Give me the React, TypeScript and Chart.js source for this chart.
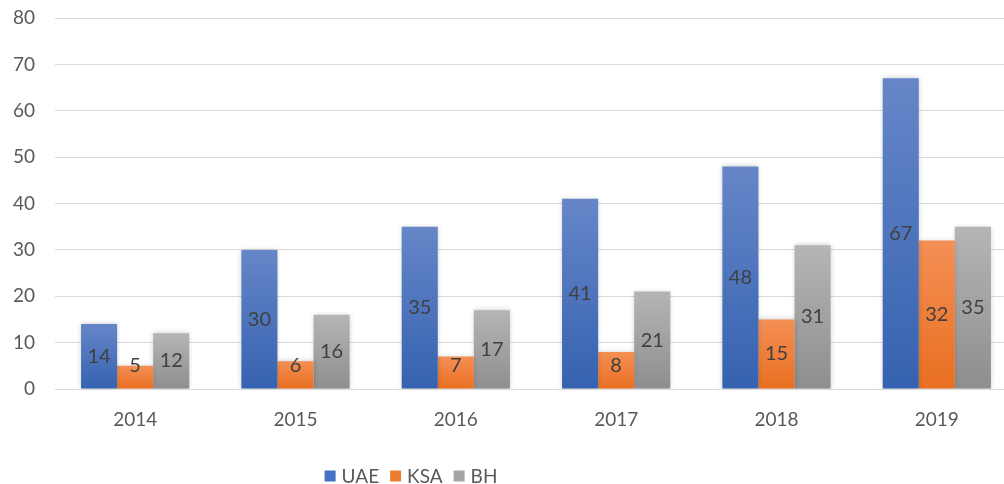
import React, { useEffect, useRef } from "react";
import { Chart, registerables } from "chart.js";

Chart.register(...registerables);

const categories = ["2014", "2015", "2016", "2017", "2018", "2019"];
const uaeValues = [14, 30, 35, 41, 48, 67];
const ksaValues = [5, 6, 7, 8, 15, 32];
const bhValues = [12, 16, 17, 21, 31, 35];
const seriesNames = ["UAE", "KSA", "BH"];
const yTicks = [0, 10, 20, 30, 40, 50, 60, 70, 80];

const FONT = "Lato";
const legendColors = ["#4472c4", "#ed7d31", "#a5a5a5"];
const gradTops = ["#6686c8", "#f48f55", "#b5b5b5"];
const gradBottoms = ["#3562b0", "#e96f20", "#8e8e8e"];

const makeGrad = (top: string, bottom: string) => (c: any) => {
  const chart = c.chart;
  const ys = chart.scales && chart.scales.y;
  if (!ys || c.raw == null) return bottom;
  const t = ys.getPixelForValue(c.raw);
  const b = ys.getPixelForValue(0);
  if (!isFinite(t) || !isFinite(b) || t === b) return bottom;
  const g = chart.ctx.createLinearGradient(0, t, 0, b);
  g.addColorStop(0, top);
  g.addColorStop(1, bottom);
  return g;
};

const shadowPlugin = {
  id: "barShadow",
  beforeDatasetsDraw(chart: any) {
    const ctx = chart.ctx;
    ctx.save();
    ctx.shadowColor = "rgba(0,0,0,0.22)";
    ctx.shadowBlur = 5;
    ctx.shadowOffsetX = 0;
    ctx.shadowOffsetY = 0;
  },
  afterDatasetsDraw(chart: any) {
    chart.ctx.restore();
  },
};

const labelPlugin = {
  id: "barLabels",
  afterDraw(chart: any) {
    const ctx = chart.ctx;
    ctx.save();
    ctx.font = `20px ${FONT}`;
    ctx.fillStyle = "#404040";
    ctx.textAlign = "center";
    ctx.textBaseline = "middle";
    chart.data.datasets.forEach((ds: any, di: number) => {
      const meta = chart.getDatasetMeta(di);
      meta.data.forEach((el: any, i: number) => {
        const y = Math.min((el.y + el.base) / 2, el.base - 23);
        ctx.fillText(String(ds.data[i]), el.x, y);
      });
    });
    ctx.restore();
  },
};

const legendPlugin = {
  id: "customLegend",
  afterDraw(chart: any) {
    const ctx = chart.ctx;
    ctx.save();
    ctx.font = `19px ${FONT}`;
    ctx.textBaseline = "middle";
    ctx.textAlign = "left";
    const box = 11;
    const gapText = 6;
    const gapItem = 11;
    const widths = chart.data.datasets.map((d: any) => ctx.measureText(d.label).width);
    const total =
      widths.reduce((a: number, w: number) => a + box + gapText + w, 0) +
      gapItem * (widths.length - 1);
    let x = 411 - total / 2;
    const cy = 476;
    chart.data.datasets.forEach((d: any, i: number) => {
      ctx.fillStyle = legendColors[i];
      ctx.fillRect(x, cy - box / 2, box, box);
      ctx.fillStyle = "#595959";
      ctx.fillText(d.label, x + box + gapText, cy + 1);
      x += box + gapText + widths[i] + gapItem;
    });
    ctx.restore();
  },
};

export default function App() {
  const ref = useRef<HTMLCanvasElement>(null);
  useEffect(() => {
    if (!ref.current) return;
    const values = [uaeValues, ksaValues, bhValues];
    const chart = new Chart(ref.current, {
      type: "bar",
      data: {
        labels: categories,
        datasets: seriesNames.map((name, i) => ({
          label: name,
          data: values[i],
          backgroundColor: makeGrad(gradTops[i], gradBottoms[i]),
          borderWidth: 0,
          barPercentage: 1,
          categoryPercentage: 0.675,
        })),
      },
      options: {
        animation: false,
        responsive: false,
        devicePixelRatio: 1,
        layout: { padding: { top: 18, right: 0, left: 0, bottom: 0 } },
        plugins: {
          legend: { display: false },
          tooltip: { enabled: false },
        },
        scales: {
          x: {
            grid: { display: false },
            border: { display: false },
            ticks: { color: "#595959", font: { family: FONT, size: 19 }, padding: 11 },
            afterFit(scale: any) {
              scale.height = 95;
              scale.paddingLeft = 0;
              scale.paddingRight = 0;
            },
          },
          y: {
            min: 0,
            max: 80,
            afterBuildTicks(scale: any) {
              scale.ticks = yTicks.map((v) => ({ value: v }));
            },
            grid: { color: "#d9d9d9", lineWidth: 1, drawTicks: false },
            border: { display: false },
            ticks: { color: "#595959", font: { family: FONT, size: 19 }, padding: 20 },
            afterFit(scale: any) {
              scale.width = 55;
              scale.paddingTop = 0;
              scale.paddingBottom = 0;
            },
          },
        },
      },
      plugins: [shadowPlugin, labelPlugin, legendPlugin],
    } as any);
    return () => chart.destroy();
  }, []);
  return (
    <div style={{ position: "absolute", left: 0, top: 0, width: 1004, height: 484, overflow: "hidden", background: "#fff" }}>
      <canvas ref={ref} width={1017} height={484} style={{ width: 1017, height: 484, display: "block" }} />
    </div>
  );
}
